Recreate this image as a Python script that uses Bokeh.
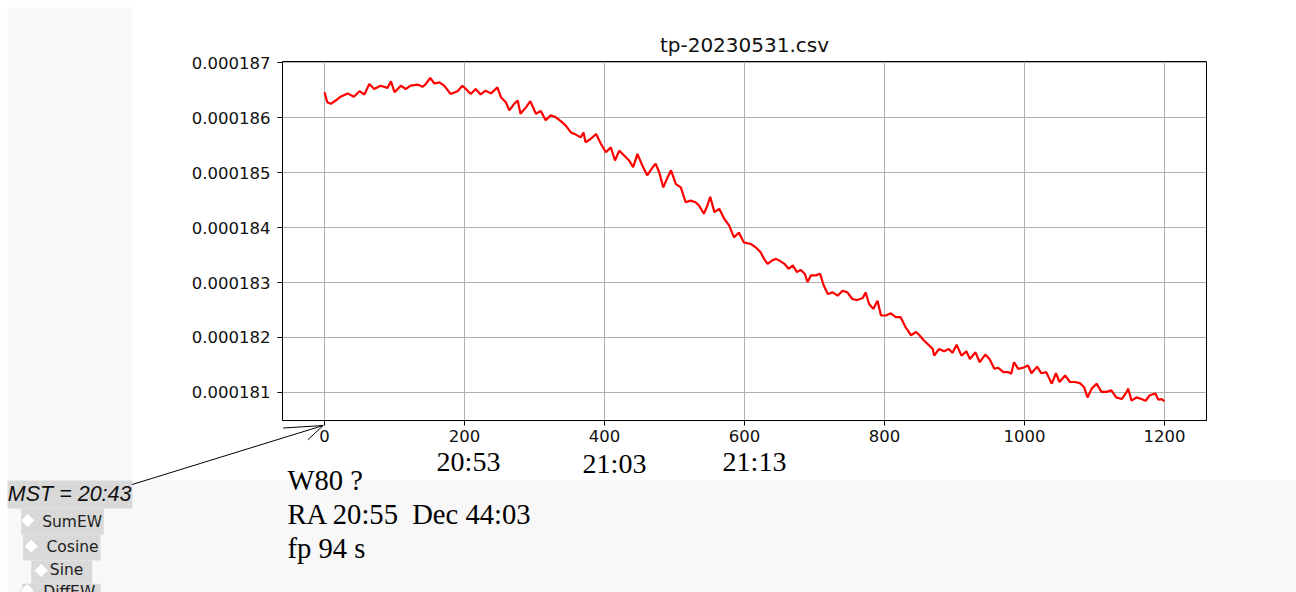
import math
from bokeh.plotting import figure
from bokeh.models import Range1d, FixedTicker, PrintfTickFormatter
from bokeh.core.properties import value
from bokeh.embed import file_html
from bokeh.resources import INLINE

# ---------------- data ----------------
title_text = "tp-20230531.csv"

x_vals = [0, 4, 9, 16, 23, 33, 42, 50, 57, 64, 71, 80, 90, 95, 100, 109, 116, 123, 133, 140,
          144, 151, 157, 164, 171, 180, 190, 197, 202, 209, 216, 223, 230, 238, 247, 252, 259,
          264, 271, 276, 280, 288, 294, 302,
          309, 316, 323, 330, 338, 345, 352, 359, 366, 370, 373, 380, 388, 395, 402, 409, 415,
          421, 428, 435, 441, 447, 454, 461, 469, 473, 478, 484, 490, 495, 502, 509, 516, 523,
          530, 535, 542, 547, 551, 557, 564, 571, 578, 585, 592, 599,
          609, 616, 623, 628, 633, 639, 645, 651, 657, 663, 669, 675, 680, 686, 690, 695, 702,
          708, 713, 719, 726, 733, 740, 747, 754, 761, 769, 773, 778, 784, 790, 795, 802, 809,
          816, 823, 830, 838, 845, 850, 856, 861, 869, 871, 878, 885, 892, 897, 903,
          910, 917, 922, 930, 936, 944, 950, 957, 962, 970, 977, 981, 985, 991, 998, 1005, 1010,
          1018, 1024, 1031, 1039, 1045, 1050, 1058, 1065, 1072, 1079, 1085, 1090, 1096, 1103,
          1110, 1117, 1124, 1131, 1139, 1146, 1148, 1153, 1160, 1167, 1173, 1179, 1187, 1191,
          1196, 1200]

y_vals = [186.46e-6, 186.28e-6, 186.25e-6, 186.31e-6, 186.38e-6, 186.44e-6, 186.38e-6, 186.48e-6,
          186.42e-6, 186.61e-6, 186.52e-6, 186.58e-6, 186.54e-6, 186.66e-6, 186.46e-6, 186.58e-6,
          186.52e-6, 186.58e-6, 186.60e-6, 186.56e-6, 186.60e-6, 186.72e-6, 186.62e-6, 186.64e-6,
          186.58e-6, 186.43e-6, 186.48e-6, 186.58e-6, 186.52e-6, 186.43e-6, 186.52e-6, 186.42e-6,
          186.49e-6, 186.44e-6, 186.55e-6, 186.37e-6, 186.28e-6, 186.13e-6, 186.25e-6, 186.31e-6,
          186.07e-6, 186.19e-6, 186.30e-6, 186.07e-6,
          186.12e-6, 185.95e-6, 186.04e-6, 186.01e-6, 185.93e-6, 185.85e-6, 185.73e-6, 185.69e-6,
          185.64e-6, 185.73e-6, 185.55e-6, 185.61e-6, 185.70e-6, 185.52e-6, 185.37e-6, 185.46e-6,
          185.22e-6, 185.40e-6, 185.31e-6, 185.22e-6, 185.10e-6, 185.34e-6, 185.13e-6, 184.95e-6,
          185.10e-6, 185.16e-6, 185.01e-6, 184.73e-6, 184.91e-6, 185.04e-6, 184.79e-6, 184.73e-6,
          184.46e-6, 184.49e-6, 184.46e-6, 184.40e-6, 184.25e-6, 184.40e-6, 184.56e-6, 184.28e-6,
          184.34e-6, 184.16e-6, 184.04e-6, 183.82e-6, 183.91e-6, 183.73e-6,
          183.70e-6, 183.64e-6, 183.55e-6, 183.43e-6, 183.34e-6, 183.40e-6, 183.43e-6, 183.39e-6,
          183.34e-6, 183.25e-6, 183.31e-6, 183.19e-6, 183.23e-6, 183.16e-6, 183.01e-6, 183.13e-6,
          183.13e-6, 183.16e-6, 182.95e-6, 182.79e-6, 182.82e-6, 182.76e-6, 182.85e-6, 182.82e-6,
          182.70e-6, 182.68e-6, 182.72e-6, 182.82e-6, 182.61e-6, 182.52e-6, 182.67e-6, 182.40e-6,
          182.40e-6, 182.44e-6, 182.37e-6, 182.37e-6, 182.19e-6, 182.04e-6, 182.10e-6, 182.04e-6,
          181.95e-6, 181.89e-6, 181.79e-6, 181.67e-6, 181.79e-6, 181.75e-6, 181.79e-6, 181.72e-6,
          181.87e-6,
          181.67e-6, 181.75e-6, 181.61e-6, 181.73e-6, 181.55e-6, 181.69e-6, 181.61e-6, 181.43e-6,
          181.45e-6, 181.37e-6, 181.37e-6, 181.34e-6, 181.55e-6, 181.43e-6, 181.45e-6, 181.49e-6,
          181.35e-6, 181.47e-6, 181.35e-6, 181.37e-6, 181.16e-6, 181.35e-6, 181.19e-6, 181.31e-6,
          181.19e-6, 181.19e-6, 181.17e-6, 181.10e-6, 180.91e-6, 181.07e-6, 181.16e-6, 181.01e-6,
          181.01e-6, 181.04e-6, 180.91e-6, 180.88e-6, 181.01e-6, 181.07e-6, 180.85e-6, 180.91e-6,
          180.88e-6, 180.85e-6, 180.95e-6, 180.98e-6, 180.87e-6, 180.88e-6, 180.84e-6]

x_ticks = [0, 200, 400, 600, 800, 1000, 1200]
y_ticks = [0.000181, 0.000182, 0.000183, 0.000184, 0.000185, 0.000186, 0.000187]

time_labels = ["20:53", "21:03", "21:13"]
mst_text = "MST = 20:43"
info_lines = ["W80 ?", "RA 20:55\u00a0 Dec 44:03", "fp 94 s"]
menu_items = ["SumEW", "Cosine", "Sine", "DiffEW"]

W, H = 1296, 592
ABS = {"position": "absolute", "left": "0px", "top": "0px"}

# ---------------- background page layer (pixel space) ----------------
bg = figure(width=W, height=H, output_backend="svg", toolbar_location=None,
            x_range=Range1d(0, W), y_range=Range1d(H, 0),
            x_axis_type=None, y_axis_type=None, min_border=0,
            styles=ABS)
bg.grid.visible = False
bg.outline_line_color = None
bg.background_fill_color = "white"
bg.border_fill_color = "white"

# light side panel and bottom band
bg.quad(left=[7, 7], right=[132, W], top=[7, 480], bottom=[480, H],
        fill_color=["#f9f9f9", "#f8f8f8"], line_color=None)
# MST label and menu item backgrounds
bg.quad(left=[7, 20.7, 22.7, 30.7, 21.7], right=[132, 103.3, 100, 91.7, 100],
        top=[480, 508, 534, 560, 583.3], bottom=[508, 534, 560, 583.3, 610],
        fill_color="#d9d9d9", line_color=None)
# radio diamonds
bg.scatter(x=[27.3, 30.7, 40.7, 26.7], y=[520, 545.7, 570, 590], marker="square",
           angle=math.pi / 4, size=10, fill_color="white", line_color="#c8c8c8", line_width=0.6)

# texts
bg.text(x=[7.3], y=[493], text=[mst_text], text_font=value("Liberation Sans"),
        text_font_size="21.5px", text_font_style="italic", text_color="#111111",
        text_baseline="alphabetic", text_align="left")
bg.text(x=[41.7, 46, 49.3, 42.7], y=[521, 546, 569.3, 591.6], text=menu_items,
        text_font=value("DejaVu Sans"), text_font_size="15.5px", text_color="#222222",
        text_baseline="alphabetic", text_align="left")
bg.text(x=[287, 287, 287], y=[480, 514, 548], text=info_lines,
        text_font=value("Liberation Serif"), text_font_size="28.6px", text_color="black",
        text_baseline="alphabetic", text_align="left")
bg.text(x=[468, 614, 754], y=[461, 463, 461], text=time_labels,
        text_font=value("Liberation Serif"), text_font_size="28px", text_color="black",
        text_baseline="alphabetic", text_align="center")

# arrow from MST label to the x = 0 tick
bg.segment(x0=[131.7, 322.7, 322.7], y0=[484, 425, 425],
           x1=[322.7, 282.7, 307.3], y1=[425, 427.5, 439.3],
           line_color="black", line_width=1)

# ---------------- chart layer ----------------
p = figure(width=W, height=H, output_backend="svg", toolbar_location=None,
           x_range=Range1d(-60, 1260), y_range=Range1d(180.49e-6, 187.02e-6),
           min_border_left=282, min_border_right=90, min_border_top=61, min_border_bottom=172,
           styles=ABS)

p.background_fill_color = "white"
p.border_fill_color = None
p.outline_line_color = "black"
p.outline_line_width = 1
p.outline_line_alpha = 1

p.title.text = title_text
p.title.align = "center"
p.title.text_font = "DejaVu Sans"
p.title.text_font_size = "20px"
p.title.text_font_style = "normal"
p.title.text_color = "#111111"
p.title.standoff = 10

for ax in (p.xaxis, p.yaxis):
    ax.axis_line_color = "black"
    ax.major_tick_line_color = "black"
    ax.major_tick_out = 5
    ax.major_tick_in = 0
    ax.minor_tick_line_color = None
    ax.major_label_text_font = "DejaVu Sans"
    ax.major_label_text_font_size = "16.5px"
    ax.major_label_text_color = "#111111"
p.xaxis.major_label_standoff = 4
p.yaxis.major_label_standoff = 7

p.xaxis.ticker = FixedTicker(ticks=x_ticks)
p.yaxis.ticker = FixedTicker(ticks=y_ticks)
p.yaxis.formatter = PrintfTickFormatter(format="%.6f")

p.xgrid.grid_line_color = "#b0b0b0"
p.ygrid.grid_line_color = "#b0b0b0"
p.xgrid.grid_line_width = 1
p.ygrid.grid_line_width = 1

p.line(x_vals, y_vals, line_color="red", line_width=2.2)

open("out.html", "w").write(file_html([bg, p], INLINE))
